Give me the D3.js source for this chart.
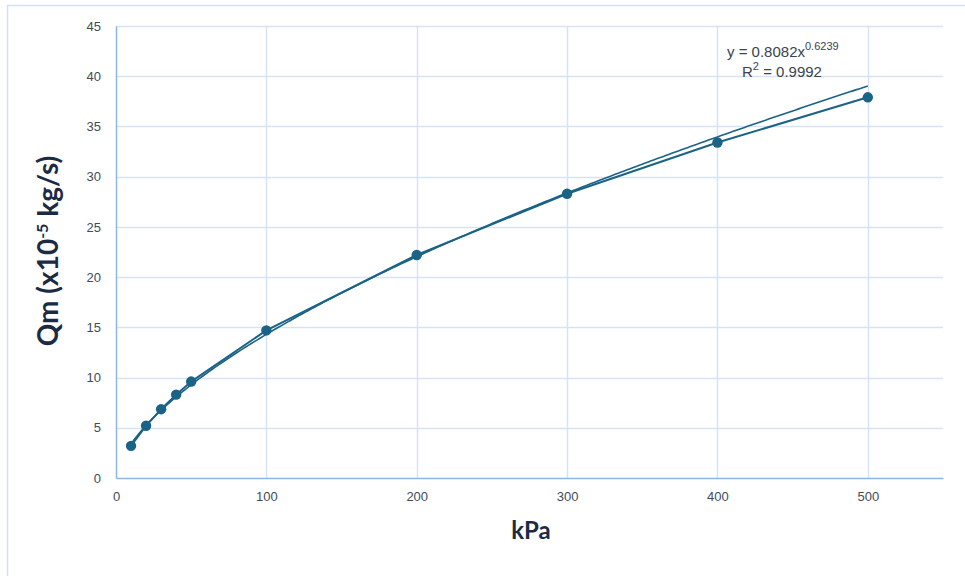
<!DOCTYPE html>
<html>
<head>
<meta charset="utf-8">
<script src="https://cdn.jsdelivr.net/npm/d3@7"></script>
<style>
  html, body { margin: 0; padding: 0; background: #fff; }
  svg { display: block; }
  text { font-family: "Liberation Sans", Arial, sans-serif; }
</style>
</head>
<body>
<svg id="chart" width="965" height="576"></svg>
<script>
// ---- data ----
const pressureKPa = [10, 20, 30, 40, 50, 100, 200, 300, 400, 500];
const qmValues = [3.2, 5.2, 6.85, 8.3, 9.6, 14.7, 22.2, 28.3, 33.4, 37.9];
const xTicks = [0, 100, 200, 300, 400, 500];
const yTicks = [0, 5, 10, 15, 20, 25, 30, 35, 40, 45];
const trendCoef = [0.8082];
const trendExp = [0.6239];
const trendLabel = ["y = 0.8082x", "0.6239"];
const r2Label = ["R", "2", " = 0.9992"];

// ---- layout ----
const svg = d3.select("#chart");
const W = 965, H = 576;
const x = d3.scaleLinear().domain([0, 550]).range([116, 943]);
const y = d3.scaleLinear().domain([0, 45]).range([478, 26]);

const lineColor = "#1b6386";
const gridColor = "#d5e3f3";
const axisColor = "#8fb5e2";
const tickColor = "#414b59";
const titleColor = "#1c2b44";

// outer chart border
svg.append("path")
  .attr("d", `M7.5,${H} L7.5,5.5 L${W},5.5`)
  .attr("fill", "none").attr("stroke", "#d3e2f3").attr("stroke-width", 1.5);

// gridlines
svg.append("g").selectAll("line.h").data(yTicks.filter(d => d > 0)).join("line")
  .attr("x1", x(0)).attr("x2", x(550))
  .attr("y1", d => Math.round(y(d)) + 0.5).attr("y2", d => Math.round(y(d)) + 0.5)
  .attr("stroke", gridColor).attr("stroke-width", 1.5);
svg.append("g").selectAll("line.v").data(xTicks.filter(d => d > 0)).join("line")
  .attr("x1", d => Math.round(x(d)) + 0.5).attr("x2", d => Math.round(x(d)) + 0.5)
  .attr("y1", y(45)).attr("y2", y(0))
  .attr("stroke", gridColor).attr("stroke-width", 1.5);

// axes
const xAxis = d3.axisBottom(x).tickValues(xTicks).tickSize(0).tickPadding(14);
const yAxis = d3.axisLeft(y).tickValues(yTicks).tickSize(0).tickPadding(15);

const gx = svg.append("g").attr("transform", `translate(0,${y(0)})`).call(xAxis);
gx.select(".domain").attr("stroke", axisColor).attr("stroke-width", 1.5);
gx.selectAll("text").attr("fill", tickColor).style("font-size", "13px");

const gy = svg.append("g").attr("transform", `translate(${x(0)},0)`).call(yAxis);
gy.select(".domain").attr("stroke", axisColor).attr("stroke-width", 1.5);
gy.selectAll("text").attr("fill", tickColor).style("font-size", "13px");

// trendline from displayed power fit
const trendX = d3.range(pressureKPa[0], pressureKPa[pressureKPa.length - 1] + 0.001, 2);
const trendPts = trendX.map(v => [v, trendCoef[0] * Math.pow(v, trendExp[0])]);
svg.append("path")
  .datum(trendPts)
  .attr("d", d3.line().x(d => x(d[0])).y(d => y(d[1])))
  .attr("fill", "none").attr("stroke", lineColor).attr("stroke-width", 1.6);

// data series
const pts = pressureKPa.map((v, i) => [v, qmValues[i]]);
svg.append("path")
  .datum(pts)
  .attr("d", d3.line().x(d => x(d[0])).y(d => y(d[1])))
  .attr("fill", "none").attr("stroke", lineColor).attr("stroke-width", 2);
svg.append("g").selectAll("circle").data(pts).join("circle")
  .attr("cx", d => x(d[0])).attr("cy", d => y(d[1])).attr("r", 5.2)
  .attr("fill", lineColor);

// equation labels
const eq = svg.append("text").attr("x", 727).attr("y", 57)
  .attr("fill", "#3b4350").style("font-size", "15px");
eq.append("tspan").text(trendLabel[0]);
eq.append("tspan").attr("dy", -7).style("font-size", "11px").text(trendLabel[1]);

const r2 = svg.append("text").attr("x", 742).attr("y", 77)
  .attr("fill", "#3b4350").style("font-size", "15px");
r2.append("tspan").text(r2Label[0]);
r2.append("tspan").attr("dy", -7).style("font-size", "11px").text(r2Label[1]);
r2.append("tspan").attr("dy", 7).text(r2Label[2]);

// axis titles
svg.append("text")
  .attr("x", 531).attr("y", 539)
  .attr("text-anchor", "middle")
  .attr("fill", titleColor).style("font-size", "24px").style("font-weight", "bold")
  .style("font-family", "Lato, 'Liberation Sans', sans-serif")
  .text("kPa");

const yt = svg.append("text")
  .attr("transform", `translate(58,251) rotate(-90)`)
  .attr("text-anchor", "middle")
  .attr("fill", titleColor).style("font-size", "28px").style("font-weight", "bold")
  .style("font-family", "Lato, 'Liberation Sans', sans-serif");
yt.append("tspan").text("Qm (x10");
yt.append("tspan").attr("dy", -10).style("font-size", "16px").text("-5");
yt.append("tspan").attr("dy", 10).text(" kg/s)");
</script>
</body>
</html>
